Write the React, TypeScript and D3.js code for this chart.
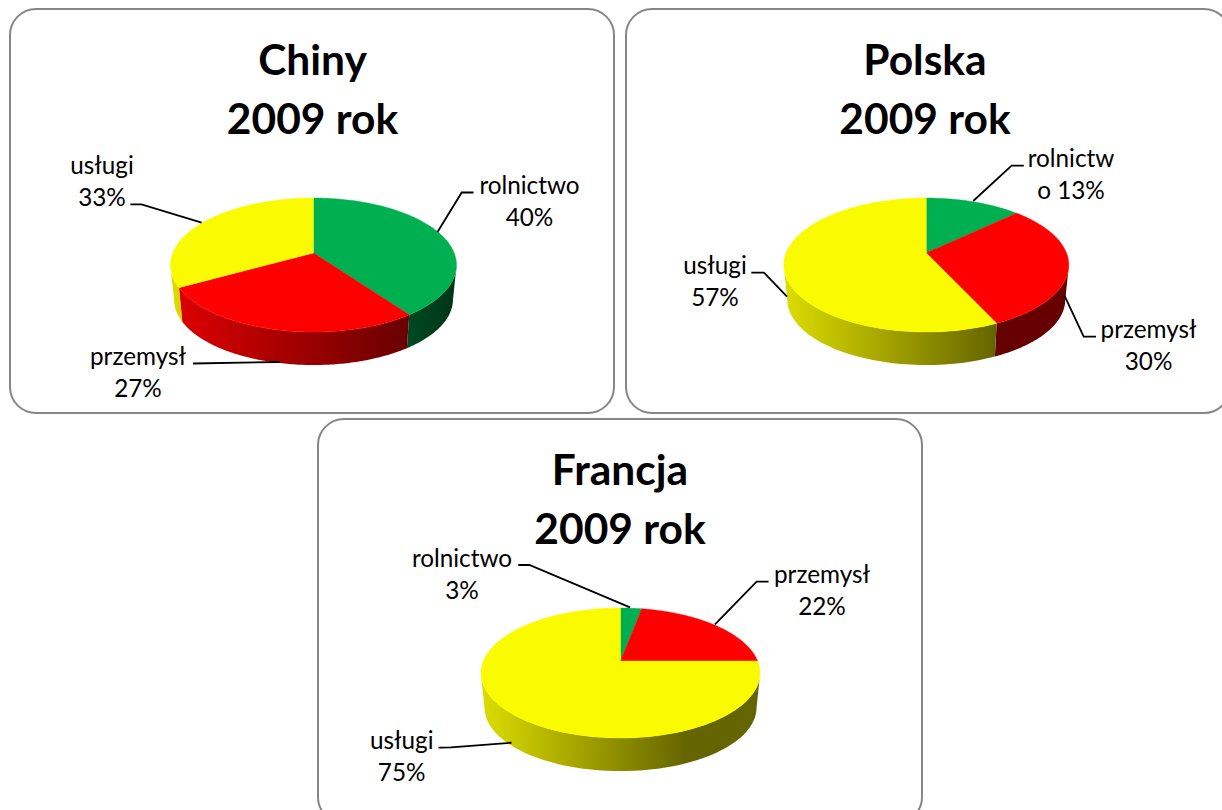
import React from "react";
import * as d3 from "d3";

const sectors = ["rolnictwo", "przemysł", "usługi"];
const chinyValues = [40, 27, 33];
const polskaValues = [13, 30, 57];
const francjaValues = [3, 22, 75];
const sectorColors = ["#00B050", "#FF0000", "#FBFB00"];
const yearLabel = "2009 rok";

const FONT = "Lato, Carlito, 'Open Sans', sans-serif";
const DEPTH = 34.7;
const SHRINK = 0.975;
const APEX_OFFSET = 12;

type Label = { lines: string[]; x: number; y: number; leader: [number, number][] };
type Panel = {
  id: string; title: string; values: number[];
  frame: [number, number]; cx: number; cy: number; rx: number; ry: number;
  titleX: number; titleY: number; darkStop: number; labels: Label[];
};

const panels: Panel[] = [
  {
    id: "ch", title: "Chiny", values: chinyValues, frame: [10, 9],
    cx: 313.5, cy: 265, rx: 143, ry: 67, titleX: 312.5, titleY: 75, darkStop: 0.85,
    labels: [
      { lines: ["rolnictwo", "40%"], x: 529.5, y: 194, leader: [[473.5, 192.5], [461.7, 192.5], [437.5, 232]] },
      { lines: ["przemysł", "27%"], x: 138, y: 365, leader: [[193, 363.5], [280, 362]] },
      { lines: ["usługi", "33%"], x: 102, y: 174, leader: [[130.4, 204.3], [141.5, 204.3], [201.6, 222.7]] },
    ],
  },
  {
    id: "pl", title: "Polska", values: polskaValues, frame: [626, 9],
    cx: 926.3, cy: 265, rx: 142.5, ry: 67, titleX: 925, titleY: 75, darkStop: 0.75,
    labels: [
      { lines: ["rolnictw", "o 13%"], x: 1071, y: 167, leader: [[1023.8, 165.7], [1011.6, 165.7], [973.2, 201]] },
      { lines: ["przemysł", "30%"], x: 1148.6, y: 337.5, leader: [[1096, 336.7], [1083.7, 336.7], [1064.5, 295.7]] },
      { lines: ["usługi", "57%"], x: 715, y: 273.5, leader: [[751.3, 272.7], [764, 272.7], [787, 296.7]] },
    ],
  },
  {
    id: "fr", title: "Francja", values: francjaValues, frame: [318, 419],
    cx: 620.5, cy: 673, rx: 139.5, ry: 65, titleX: 620, titleY: 485, darkStop: 0.74,
    labels: [
      { lines: ["rolnictwo", "3%"], x: 462, y: 567, leader: [[518.3, 565], [529.4, 565], [630, 607.3]] },
      { lines: ["przemysł", "22%"], x: 822, y: 582.5, leader: [[768.5, 581.7], [756.6, 581.7], [715, 624.3]] },
      { lines: ["usługi", "75%"], x: 401.7, y: 748.5, leader: [[438.5, 747.7], [451, 747.3], [511.6, 742.7]] },
    ],
  },
];

const FRAME_W = 604;
const FRAME_H = 404;

// Project a pie angle (clockwise from 12 o'clock) on to the tilted disc's rim,
// as seen from the off-centre apex, relative to the ellipse's centre.
function rim(theta: number, rx: number, ry: number): [number, number] {
  const dx = Math.sin(theta) * rx;
  const dy = -Math.cos(theta) * ry;
  const a = (dx * dx) / (rx * rx) + (dy * dy) / (ry * ry);
  const b = (2 * -APEX_OFFSET * dy) / (ry * ry);
  const c = (APEX_OFFSET * APEX_OFFSET) / (ry * ry) - 1;
  const t = (-b + Math.sqrt(b * b - 4 * a * c)) / (2 * a);
  return [dx * t, -APEX_OFFSET + dy * t];
}

const line = d3.line<[number, number]>();
const shade = (color: string, k: number) => {
  const c = d3.rgb(color);
  return d3.rgb(c.r * k, c.g * k, c.b * k).formatHex();
};

function Pie3D({ p }: { p: Panel }) {
  const arcs = d3.pie<number>().sort(null)(p.values);
  const samples = (a: { startAngle: number; endAngle: number }) =>
    d3.range(0, 121).map((i) => rim(a.startAngle + ((a.endAngle - a.startAngle) * i) / 120, p.rx, p.ry));
  return (
    <g>
      <defs>
        {sectorColors.map((c, i) => (
          <linearGradient key={i} id={`${p.id}-side-${i}`} gradientUnits="userSpaceOnUse" x1={p.cx - p.rx} x2={p.cx + p.rx} y1={0} y2={0}>
            <stop offset={0} stopColor={shade(c, 0.88)} />
            <stop offset={p.darkStop} stopColor={shade(c, 0.4)} />
            <stop offset={1} stopColor={shade(c, i === 0 ? 0.3 : 0.4)} />
          </linearGradient>
        ))}
      </defs>
      {arcs.map((a, i) => {
        const front = samples(a).filter((q) => q[1] >= 0);
        if (front.length < 2) return null;
        const top = front.map(([x, y]) => [p.cx + x, p.cy + y] as [number, number]);
        const bottom = front
          .map(([x, y]) => [p.cx + x * SHRINK, p.cy + DEPTH + y * SHRINK] as [number, number])
          .reverse();
        return <path key={i} d={line([...top, ...bottom]) + "Z"} fill={`url(#${p.id}-side-${i})`} />;
      })}
      {arcs.map((a, i) => {
        const pts = samples(a).map(([x, y]) => [p.cx + x, p.cy + y] as [number, number]);
        const apex: [number, number] = [p.cx, p.cy - APEX_OFFSET];
        return <path key={i} d={line([apex, ...pts]) + "Z"} fill={sectorColors[i]} stroke={sectorColors[i]} strokeWidth={0.4} />;
      })}
    </g>
  );
}

function PanelView({ p }: { p: Panel }) {
  return (
    <g>
      <rect x={p.frame[0]} y={p.frame[1]} width={FRAME_W} height={FRAME_H} rx={26} ry={26} fill="#fff" stroke="#868686" strokeWidth={2} />
      <Pie3D p={p} />
      <text x={p.titleX} y={p.titleY} textAnchor="middle" fontFamily={FONT} fontWeight={700} fontSize={42.5} fill="#000">{p.title}</text>
      <text x={p.titleX} y={p.titleY + 59} textAnchor="middle" fontFamily={FONT} fontWeight={700} fontSize={42.5} fill="#000">{yearLabel}</text>
      {p.labels.map((l, i) => (
        <g key={i}>
          <path d={line(l.leader) ?? ""} fill="none" stroke="#000" strokeWidth={1.8} />
          {l.lines.map((t, j) => (
            <text key={j} x={l.x} y={l.y + j * 32} textAnchor="middle" fontFamily={FONT} fontSize={24.3} fill="#000">{t}</text>
          ))}
        </g>
      ))}
    </g>
  );
}

export default function App() {
  return (
    <svg width={1222} height={810} viewBox="0 0 1222 810" style={{ position: "absolute", left: 0, top: 0, display: "block", background: "#fff" }}>
      {panels.map((p) => <PanelView key={p.id} p={p} />)}
    </svg>
  );
}
